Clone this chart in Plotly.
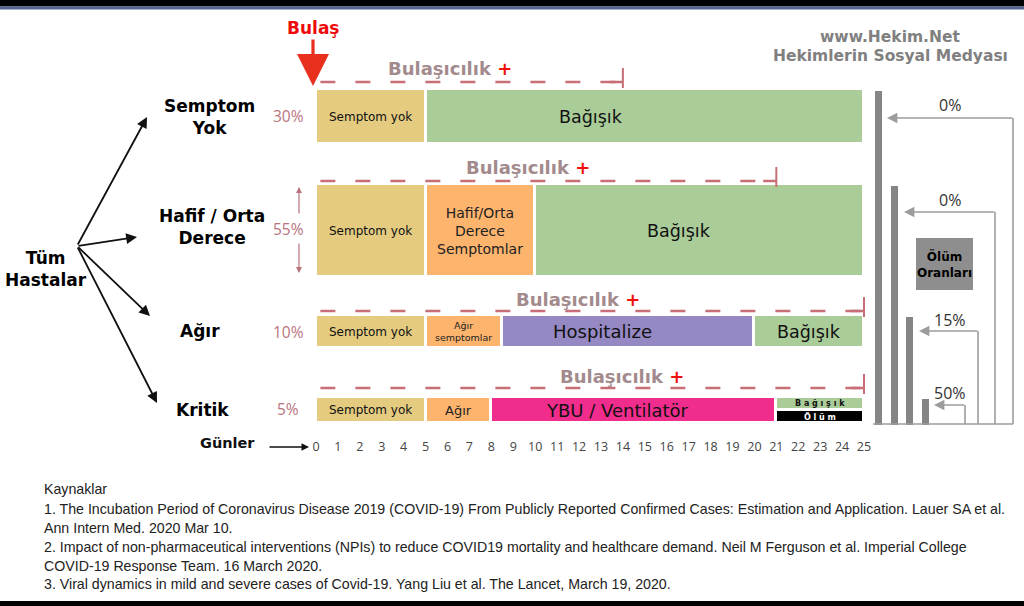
import plotly.graph_objects as go

# ---------------- data ----------------
days = list(range(26))
day_labels = [str(d) for d in days]
row_names = ["Semptom<br>Yok", "Hafif / Orta<br>Derece", "Ağır", "Kritik"]
row_share = [30, 55, 10, 5]          # % of all patients
death_rate = [0, 0, 15, 50]          # % mortality per group
contagious_end = [14, 21, 25, 25]    # last contagious day per group

seg_row = [0, 0, 1, 1, 1, 2, 2, 2, 2, 3, 3, 3, 3, 3]
seg_start = [0, 5, 0, 5, 10, 0, 5, 8.5, 20, 0, 5, 8, 21, 21]
seg_end = [5, 25, 5, 10, 25, 5, 8.5, 20, 25, 5, 8, 21, 25, 25]
seg_label = ["Semptom yok", "Bağışık",
             "Semptom yok", "Hafif/Orta<br>Derece<br>Semptomlar", "Bağışık",
             "Semptom yok", "Ağır<br>semptomlar", "Hospitalize", "Bağışık",
             "Semptom yok", "Ağır", "YBU / Ventilatör", "B a ğ ı ş ı k", "Ö l ü m"]
seg_kind = ["yok", "bag",
            "yok", "hafif", "bag",
            "yok", "agir_s", "hosp", "bag",
            "yok", "agir", "ybu", "bag2", "olum"]

references = [
    "Kaynaklar",
    "1. The Incubation Period of Coronavirus Disease 2019 (COVID-19) From Publicly Reported Confirmed Cases: Estimation and Application. Lauer SA et al.",
    "Ann Intern Med. 2020 Mar 10.",
    "2. Impact of non-pharmaceutical interventions (NPIs) to reduce COVID19 mortality and healthcare demand. Neil M Ferguson et al. Imperial College",
    "COVID-19 Response Team. 16 March 2020.",
    "3. Viral dynamics in mild and severe cases of Covid-19. Yang Liu et al. The Lancet, March 19, 2020.",
]

# ---------------- styles / layout ----------------
W, H = 1024, 606
PX0, PX25 = 316, 864                      # pixel of day 0 / day 25
PPD = (PX25 - PX0) / 25.0
XRANGE = [-PX0 / PPD, 25 + (W - PX25) / PPD]

ROW_TOP = [89, 184, 315, 397]
ROW_BOT = [144, 277, 348, 423]
ROW_LABEL_XY = [(209, 117), (212, 227), (200, 331), (202, 410)]
PCT_XY = [(288, 116), (288, 229), (288, 332), (288, 409)]
DASH_Y = [82, 181, 311, 388]
BUL_LABEL_XY = [(450, 68), (528, 167), (578, 299), (622, 376)]
PANEL_BAR_X = [875, 891, 906, 922]
PANEL_V_X = [1013, 995, 978, 965]
PANEL_H_Y = [118, 212, 331, 405]
PANEL_TIP_X = [887, 904, 919, 934]
PANEL_LBL_Y = [105, 200, 320, 393]
PANEL_BASE_Y = 424

KIND = {
    "yok":    dict(color="#E4CB80", size=12, fc="#111111", frac=(0, 1)),
    "bag":    dict(color="#AACC99", size=17.5, fc="#111111", frac=(0, 1)),
    "hafif":  dict(color="#FDB56E", size=14, fc="#222222", frac=(0, 1)),
    "agir_s": dict(color="#FDB56E", size=9.5, fc="#222222", frac=(0, 1)),
    "agir":   dict(color="#FDB56E", size=13, fc="#222222", frac=(0, 1)),
    "hosp":   dict(color="#9588C3", size=18, fc="#111111", frac=(0, 1)),
    "ybu":    dict(color="#F02C8C", size=18, fc="#111111", frac=(0, 1)),
    "bag2":   dict(color="#AACC99", size=8, fc="#111111", frac=(0, 0.5)),
    "olum":   dict(color="#000000", size=8, fc="#FFFFFF", frac=(0.5, 1)),
}
LABEL_DX = [0, -54, 0, 0, -21, 0, 0, -26, 0, 0, 0, -16, 0, 0]

DASH_COLOR = "#C76E76"
BUL_COLOR = "#A38B8D"
PCT_COLOR = "#B9747E"
PANEL_BAR_COLOR = "#858585"
PANEL_LINE_COLOR = "#9C9C9C"
BOLD = "DejaVu Sans"

fig = go.Figure()

# bars
ys, ws, cols = [], [], []
for r, k in zip(seg_row, seg_kind):
    st = KIND[k]
    t = ROW_TOP[r] + (ROW_BOT[r] - ROW_TOP[r]) * st["frac"][0]
    b = ROW_TOP[r] + (ROW_BOT[r] - ROW_TOP[r]) * st["frac"][1]
    ys.append((t + b) / 2)
    ws.append(b - t)
    cols.append(st["color"])

fig.add_trace(go.Bar(
    orientation="h", y=ys, base=seg_start,
    x=[e - s for s, e in zip(seg_start, seg_end)],
    width=ws, marker=dict(color=cols, line=dict(color="white", width=3)),
    hoverinfo="skip", showlegend=False,
))

# contagious dashed lines
for i, end in enumerate(contagious_end):
    fig.add_trace(go.Scatter(
        x=[0.2, end], y=[DASH_Y[i], DASH_Y[i]], mode="lines",
        line=dict(color=DASH_COLOR, width=2.5, dash="15px,20px"),
        hoverinfo="skip", showlegend=False))
    fig.add_trace(go.Scatter(
        x=[end - 0.6, end], y=[DASH_Y[i], DASH_Y[i]], mode="lines",
        line=dict(color=DASH_COLOR, width=2.5),
        hoverinfo="skip", showlegend=False))
    fig.add_trace(go.Scatter(
        x=[end, end], y=[DASH_Y[i] + 6, DASH_Y[i] - 14], mode="lines",
        line=dict(color=DASH_COLOR, width=2),
        hoverinfo="skip", showlegend=False))

# dummy trace on pixel axis
fig.add_trace(go.Scatter(x=[0, W], y=[0, H], xaxis="x2", yaxis="y", mode="markers",
                         marker=dict(opacity=0), hoverinfo="skip", showlegend=False))

ann = []
shapes = []

def txt(x, y, text, size, color, bold=False, family=BOLD, xref="x2", xanchor="center",
        xshift=0, yanchor="middle", align="center"):
    ann.append(dict(x=x, y=y, xref=xref, yref="y", text=text, showarrow=False,
                    font=dict(size=size, color=color, family=family,
                              weight="bold" if bold else "normal"),
                    xanchor=xanchor, yanchor=yanchor, xshift=xshift, align=align))

def arrow(x0, y0, x1, y1, color, width, size, head=2):
    ann.append(dict(x=x1, y=y1, ax=x0, ay=y0, xref="x2", yref="y", axref="x2", ayref="y",
                    text="", showarrow=True, arrowhead=head, arrowsize=size,
                    arrowwidth=width, arrowcolor=color))

# segment labels
for i in range(len(seg_label)):
    st = KIND[seg_kind[i]]
    bold = seg_kind[i] in ("bag2", "olum")
    txt((seg_start[i] + seg_end[i]) / 2, ys[i], seg_label[i], st["size"], st["fc"],
        bold=bold, xref="x", xshift=LABEL_DX[i])

# row labels and shares
for i, name in enumerate(row_names):
    x, y = ROW_LABEL_XY[i]
    txt(x, y, name, 17, "#000000", bold=True)
    px, py = PCT_XY[i]
    txt(px, py, f"{row_share[i]}%", 15.5, PCT_COLOR, family="Open Sans")
    bx, by = BUL_LABEL_XY[i]
    txt(bx, by, "Bulaşıcılık <span style='color:#F01010'>+</span>", 18, BUL_COLOR, bold=True)

# 55% double arrow
arrow(299, 215, 299, 187, PCT_COLOR, 1.2, 1.0)
arrow(299, 242, 299, 273, PCT_COLOR, 1.2, 1.0)

# Tüm Hastalar + arrows
txt(46, 269, "Tüm<br>Hastalar", 17, "#000000", bold=True)
for tip in [(147, 117), (137, 237), (150, 316), (157, 403)]:
    arrow(77, 246, tip[0], tip[1], "#111111", 1.8, 1.2)

# Bulaş
txt(313, 28, "Bulaş", 17, "#EE0A0A", bold=True)
arrow(313, 38, 313, 86, "#E8301F", 3.2, 2.0)

# Günler
txt(227, 443, "Günler", 14.5, "#111111", bold=True)
arrow(268, 447, 309, 447, "#111111", 1.5, 1.0)

# watermark
txt(890, 37, "www.Hekim.Net", 15.5, "#808080", bold=True)
txt(890, 56, "Hekimlerin Sosyal Medyası", 15.5, "#808080", bold=True)

# death-rate panel
for i, rate in enumerate(death_rate):
    shapes.append(dict(type="rect", xref="x2", yref="y", x0=PANEL_BAR_X[i], x1=PANEL_BAR_X[i] + 7,
                       y0=ROW_TOP[i] + 2, y1=PANEL_BASE_Y + 1, fillcolor=PANEL_BAR_COLOR,
                       line=dict(width=0)))
    shapes.append(dict(type="line", xref="x2", yref="y", x0=PANEL_V_X[i], x1=PANEL_V_X[i],
                       y0=PANEL_BASE_Y, y1=PANEL_H_Y[i], line=dict(color=PANEL_LINE_COLOR, width=1.6)))
    arrow(PANEL_V_X[i] + 0.8, PANEL_H_Y[i], PANEL_TIP_X[i], PANEL_H_Y[i], PANEL_LINE_COLOR, 1.6, 1.3)
    txt(950, PANEL_LBL_Y[i], f"{rate}%", 16, "#333333", family="Open Sans")
shapes.append(dict(type="line", xref="x2", yref="y", x0=873, x1=1013, y0=PANEL_BASE_Y, y1=PANEL_BASE_Y,
                   line=dict(color=PANEL_LINE_COLOR, width=1.6)))
shapes.append(dict(type="rect", xref="x2", yref="y", x0=916, x1=973, y0=238, y1=290,
                   fillcolor="#8E8E8E", line=dict(width=0)))
txt(944.5, 264, "Ölüm<br>Oranları", 12, "#000000", bold=True)

# references
ref_y = [489, 509, 528, 547, 566, 584]
for t, y in zip(references, ref_y):
    txt(42, y, t, 14.2, "#222222", family="Liberation Sans", xanchor="left", align="left")

# frame bars
shapes.append(dict(type="rect", xref="paper", yref="y", x0=0, x1=1, y0=0, y1=6.5,
                   fillcolor="#000000", line=dict(width=0)))
shapes.append(dict(type="rect", xref="paper", yref="y", x0=0, x1=1, y0=6.5, y1=9.5,
                   fillcolor="#52648F", line=dict(width=0)))
shapes.append(dict(type="rect", xref="paper", yref="y", x0=0, x1=1, y0=601, y1=606,
                   fillcolor="#000000", line=dict(width=0)))

fig.update_layout(
    width=W, height=H, margin=dict(l=0, r=0, t=0, b=0),
    paper_bgcolor="white", plot_bgcolor="white",
    xaxis=dict(range=XRANGE, domain=[0, 1], anchor="free", position=1 - 437 / H,
               tickvals=days, ticktext=day_labels, ticks="", showgrid=False, zeroline=False,
               showline=False, tickfont=dict(size=12.5, color="#444444", family="Open Sans"),
               fixedrange=True),
    xaxis2=dict(range=[0, W], overlaying="x", visible=False, anchor="y", fixedrange=True),
    yaxis=dict(range=[H, 0], domain=[0, 1], visible=False, fixedrange=True),
    annotations=ann, shapes=shapes, showlegend=False, bargap=0,
)

fig.write_html("out.html", config={"displayModeBar": False},
               post_script="document.body.style.margin='0';document.body.style.overflow='hidden';")
